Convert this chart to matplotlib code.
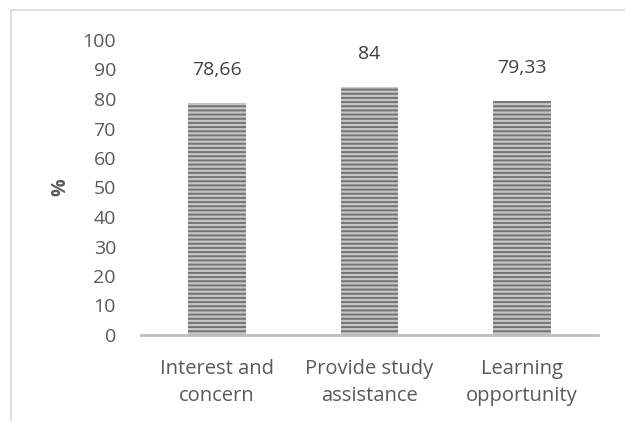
import matplotlib.pyplot as plt
from matplotlib.patches import Rectangle

categories = ["Interest and\nconcern", "Provide study\nassistance", "Learning\nopportunity"]
values = [78.66, 84, 79.33]
value_labels = ["78,66", "84", "79,33"]
y_ticks = list(range(0, 101, 10))


def main():
    plt.rcParams["font.family"] = ["Open Sans", "DejaVu Sans"]
    plt.rcParams["hatch.linewidth"] = 1.4

    text_color = "#595959"
    font_size = 14

    figure = plt.figure(figsize=(6.25, 4.21), dpi=100)
    axis = figure.add_axes([141 / 625, 86 / 421, 457 / 625, 295 / 421])

    # outer chart border (only top and left visible in the crop)
    figure.patches.append(
        Rectangle(
            (11 / 625, -0.1),
            1.2,
            1.1 - 10 / 421,
            transform=figure.transFigure,
            fill=False,
            edgecolor="#d9d9d9",
            linewidth=1.2,
        )
    )

    positions = range(len(categories))
    axis.bar(
        positions,
        values,
        width=0.38,
        color="#c6c6c6",
        edgecolor="#737373",
        linewidth=0,
        hatch="----",
    )

    for x, v, label in zip(positions, values, value_labels):
        axis.annotate(
            label,
            (x, v),
            xytext=(0, 24),
            textcoords="offset points",
            ha="center",
            va="center",
            fontsize=font_size,
            color="#404040",
        )

    axis.set_xlim(-0.5, 2.5)
    axis.set_ylim(0, 100)
    axis.set_yticks(y_ticks)
    axis.set_xticks(list(positions))
    axis.set_xticklabels(categories, linespacing=1.5)

    axis.tick_params(axis="y", length=0, pad=18, labelsize=font_size, labelcolor=text_color)
    axis.tick_params(axis="x", length=0, pad=17, labelsize=14.5, labelcolor=text_color)

    for side in ["top", "right", "left"]:
        axis.spines[side].set_visible(False)
    axis.spines["bottom"].set_color("#bfbfbf")
    axis.spines["bottom"].set_linewidth(2)

    axis.set_ylabel("%", fontsize=font_size, color=text_color, fontweight="bold", labelpad=9)

    figure.savefig("out.png", dpi=100)


if __name__ == "__main__":
    main()
